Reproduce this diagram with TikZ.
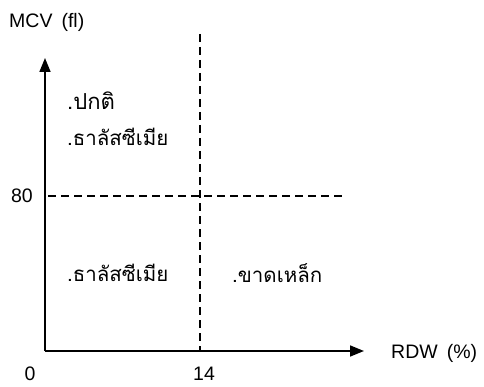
\documentclass[tikz,border=0pt]{standalone}
\usepackage{fontspec}
\setmainfont{Liberation Sans}
\newfontfamily\thaifont[Script=Thai]{Loma}
\usetikzlibrary{arrows.meta}
\begin{document}
\begin{tikzpicture}[x=1pt,y=1pt,
  axis/.style={line width=1.6pt,-{Triangle[length=14pt,width=11pt]}},
  guide/.style={line width=1.3pt,dash pattern=on 8pt off 5pt},
  lab/.style={font=\fontsize{19.5}{19.5}\selectfont,inner sep=0pt},
  th/.style={font=\thaifont\fontsize{20.5}{22}\selectfont,inner sep=0pt,anchor=west}]
\useasboundingbox (0,0) rectangle (484,386);
\coordinate (o) at (45,35);
\coordinate (ytip) at (45,328);
\coordinate (xtip) at (364,35);
\coordinate (vtop) at (200,352);
\coordinate (vbot) at (200,35);
\coordinate (hl) at (48,190);
\coordinate (hr) at (346,190);
\draw[guide] (vtop) -- (vbot);
\draw[guide] (hl) -- (hr);
\draw[axis] (o) -- (ytip);
\draw[axis] (o) -- (xtip);
\node[lab,anchor=west] (ylab) at (9,364) {MCV\hspace{9pt}(fl)};
\node[lab,anchor=west] (xlab) at (391,33) {RDW\hspace{9pt}(\%)};
\node[lab] (l80) at (22,190) {80};
\node[lab] (l0) at (30,12) {0};
\node[lab] (l14) at (204,12) {14};
\node[th,font=\thaifont\fontsize{22}{24}\selectfont] (n1) at (67,285) {.ปกติ};
\node[th] (n2) at (67,249) {.ธาลัสซีเมีย};
\node[th] (n3) at (67,113) {.ธาลัสซีเมีย};
\node[th] (n4) at (232,113) {.ขาดเหล็ก};
\end{tikzpicture}
\end{document}
